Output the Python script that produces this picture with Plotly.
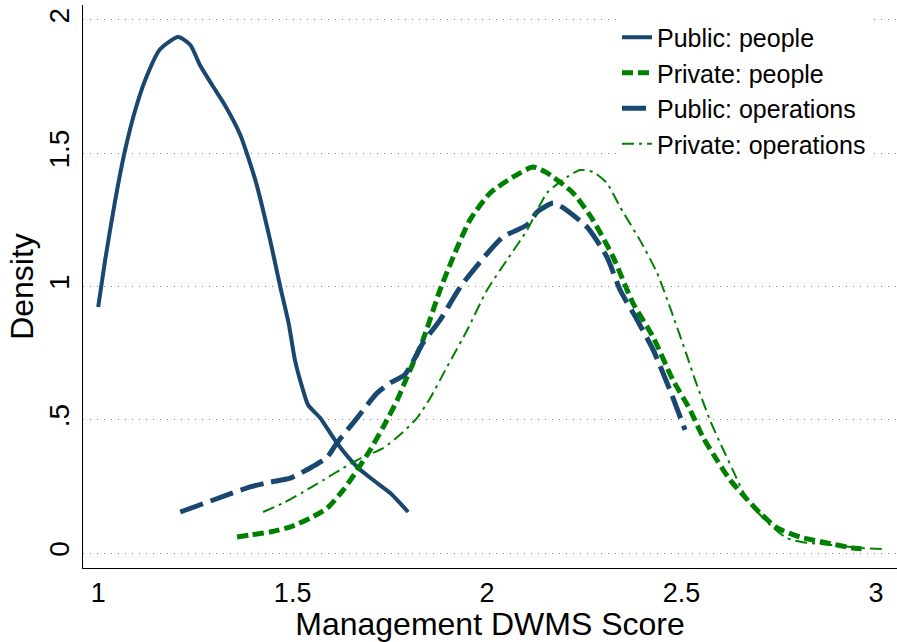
import plotly.graph_objects as go

# kernel density curves
pub_people_x = [1.000, 1.018, 1.044, 1.069, 1.095, 1.121, 1.159, 1.206, 1.237, 1.262, 1.293,
                1.326, 1.365, 1.404, 1.442, 1.468, 1.490, 1.506, 1.523, 1.540, 1.571, 1.614,
                1.666, 1.707, 1.751, 1.797]
pub_people_y = [0.923, 1.100, 1.325, 1.510, 1.660, 1.775, 1.890, 1.936, 1.906, 1.830, 1.756,
                1.680, 1.570, 1.400, 1.175, 1.000, 0.860, 0.724, 0.630, 0.555, 0.507, 0.413,
                0.323, 0.274, 0.225, 0.154]

priv_people_x = [1.357, 1.391, 1.442, 1.494, 1.545, 1.589, 1.630, 1.666, 1.699, 1.733, 1.769,
                 1.794, 1.835, 1.879, 1.913, 1.956, 2.008, 2.067, 2.118, 2.154, 2.221, 2.272,
                 2.324, 2.375, 2.427, 2.478, 2.522, 2.555, 2.591, 2.625, 2.658, 2.702, 2.746,
                 2.805, 2.874, 2.941, 2.977]
priv_people_y = [0.060, 0.068, 0.079, 0.098, 0.131, 0.169, 0.236, 0.311, 0.386, 0.473, 0.574,
                 0.660, 0.799, 0.987, 1.111, 1.250, 1.351, 1.411, 1.448, 1.426, 1.351, 1.250,
                 1.111, 0.938, 0.810, 0.649, 0.537, 0.435, 0.349, 0.274, 0.218, 0.150, 0.094,
                 0.060, 0.038, 0.019, 0.015]

pub_ops_x = [1.211, 1.296, 1.391, 1.442, 1.494, 1.545, 1.589, 1.614, 1.666, 1.717, 1.751,
             1.789, 1.835, 1.879, 1.931, 1.982, 2.041, 2.103, 2.129, 2.170, 2.193, 2.257,
             2.308, 2.342, 2.386, 2.427, 2.470, 2.509]
pub_ops_y = [0.154, 0.199, 0.248, 0.266, 0.281, 0.319, 0.360, 0.413, 0.507, 0.600, 0.638,
             0.670, 0.788, 0.874, 0.998, 1.092, 1.186, 1.231, 1.280, 1.313, 1.298, 1.223,
             1.111, 0.987, 0.874, 0.762, 0.612, 0.462]

priv_ops_x = [1.424, 1.476, 1.527, 1.579, 1.630, 1.681, 1.733, 1.784, 1.820, 1.853, 1.897,
              1.949, 2.000, 2.051, 2.103, 2.154, 2.206, 2.239, 2.272, 2.308, 2.342, 2.393,
              2.437, 2.470, 2.514, 2.535, 2.573, 2.604, 2.632, 2.656, 2.684, 2.728, 2.771,
              2.812, 2.889, 2.959, 3.028]
priv_ops_y = [0.154, 0.188, 0.229, 0.274, 0.319, 0.360, 0.394, 0.454, 0.507, 0.580, 0.698,
              0.837, 0.987, 1.099, 1.212, 1.351, 1.411, 1.437, 1.430, 1.388, 1.298, 1.174,
              1.051, 0.923, 0.740, 0.649, 0.499, 0.398, 0.311, 0.236, 0.173, 0.105, 0.056,
              0.041, 0.030, 0.019, 0.015]

y_ticks = [0, 0.5, 1, 1.5, 2]
y_labels = ['0', '.5', '1', '1.5', '2']
x_ticks = [1, 1.5, 2, 2.5, 3]
x_labels = ['1', '1.5', '2', '2.5', '3']

navy = '#1a476f'
green = '#008000'

fig = go.Figure()
fig.add_trace(go.Scatter(x=pub_people_x, y=pub_people_y, name='Public: people', mode='lines',
                         line=dict(color=navy, width=4, shape='spline', smoothing=0.6)))
fig.add_trace(go.Scatter(x=priv_people_x, y=priv_people_y, name='Private: people', mode='lines',
                         line=dict(color=green, width=5, dash='11px,5px', shape='spline', smoothing=0.6)))
fig.add_trace(go.Scatter(x=pub_ops_x, y=pub_ops_y, name='Public: operations', mode='lines',
                         line=dict(color=navy, width=5, dash='24px,8px', shape='spline', smoothing=0.6)))
fig.add_trace(go.Scatter(x=priv_ops_x, y=priv_ops_y, name='Private: operations', mode='lines',
                         line=dict(color=green, width=2, dash='12px,5px,3px,5px', shape='spline', smoothing=0.6)))

fig.update_layout(
    width=897, height=642,
    margin=dict(l=83, r=0, t=5, b=74),
    paper_bgcolor='white', plot_bgcolor='white',
    font=dict(family='Arial, Liberation Sans, sans-serif', color='black'),
    legend=dict(x=0.656, y=0.983, xanchor='left', yanchor='top',
                bgcolor='white', font=dict(size=25)),
)
fig.update_xaxes(range=[0.961, 3.054], tickvals=x_ticks, ticktext=x_labels, automargin=False,
                 showgrid=False, zeroline=False, showline=True, linecolor='black', linewidth=1,
                 ticks='', ticklabelstandoff=1, tickfont=dict(size=27),
                 title=dict(text='Management DWMS Score', font=dict(size=32), standoff=3))
fig.update_yaxes(range=[-0.056, 2.056], tickvals=y_ticks, ticktext=y_labels, tickangle=-90,
                 automargin=False,
                 showgrid=True, gridcolor='#888888', griddash='1px,6px', gridwidth=1,
                 zeroline=False, showline=True, linecolor='black', linewidth=1,
                 ticks='', ticklabelstandoff=2, tickfont=dict(size=28),
                 title=dict(text='Density', font=dict(size=32), standoff=0))

# drop the page's default body margin so the figure sits at the window's corner
fig.write_html('out.html', config={'displayModeBar': False},
               post_script="document.body.style.margin='0';")
